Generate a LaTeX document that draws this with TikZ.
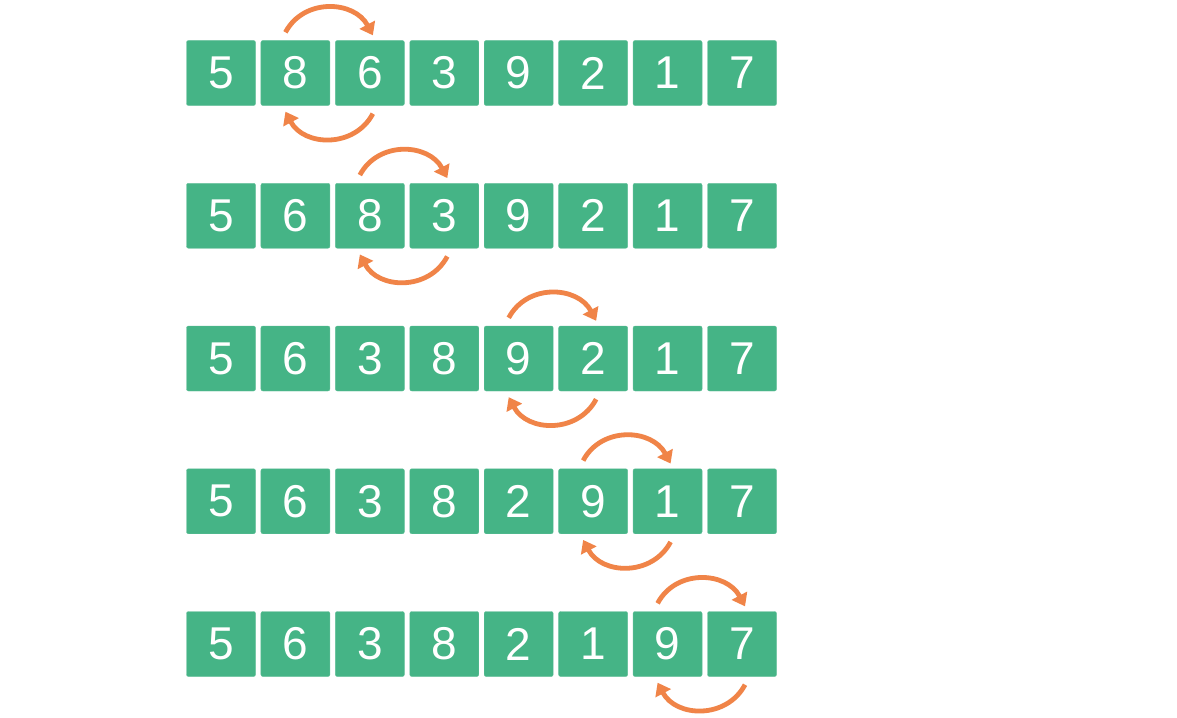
\documentclass[tikz,border=0pt]{standalone}
\usepackage{fontspec}
\setmainfont{Liberation Sans}
\usepackage{tikz}
\usetikzlibrary{arrows.meta}

\definecolor{cellgreen}{RGB}{69,180,134}
\definecolor{swaporange}{RGB}{240,132,72}

\begin{document}
\begin{tikzpicture}[x=1pt,y=1pt,
    cell/.style={rectangle,draw=cellgreen!85,fill=cellgreen,rounded corners=2pt,
      minimum width=69pt,minimum height=65pt,inner sep=0pt,text=white,
      font=\fontsize{46}{50}\selectfont},
    swap/.style={draw=swaporange,line width=4.8pt,-{Triangle[width=17pt,length=12pt]}}]
    \useasboundingbox[fill=white] (0,0) rectangle (1177,-717);

    % Rows
    \foreach \d [count=\i] in {5,8,6,3,9,2,1,7}
      \node[cell] (a\i) at (221+74.43*\i-74.43,-73) {\d};
    \foreach \d [count=\i] in {5,6,8,3,9,2,1,7}
      \node[cell] (b\i) at (221+74.43*\i-74.43,-215.75) {\d};
    \foreach \d [count=\i] in {5,6,3,8,9,2,1,7}
      \node[cell] (c\i) at (221+74.43*\i-74.43,-358.5) {\d};
    \foreach \d [count=\i] in {5,6,3,8,2,9,1,7}
      \node[cell] (d\i) at (221+74.43*\i-74.43,-501.25) {\d};
    \foreach \d [count=\i] in {5,6,3,8,2,1,9,7}
      \node[cell] (e\i) at (221+74.43*\i-74.43,-644) {\d};

    % Swaps
    \draw[swap] ([xshift=-10pt,yshift=8pt]a2.north) to[out=62,in=118,looseness=1.15] ([xshift=3pt,yshift=5pt]a3.north);
    \draw[swap] ([xshift=3pt,yshift=-8pt]a3.south) to[out=-118,in=-62,looseness=1.15] ([xshift=-10pt,yshift=-6pt]a2.south);
    \draw[swap] ([xshift=-10pt,yshift=8pt]b3.north) to[out=62,in=118,looseness=1.15] ([xshift=3pt,yshift=5pt]b4.north);
    \draw[swap] ([xshift=3pt,yshift=-8pt]b4.south) to[out=-118,in=-62,looseness=1.15] ([xshift=-10pt,yshift=-6pt]b3.south);
    \draw[swap] ([xshift=-10pt,yshift=8pt]c5.north) to[out=62,in=118,looseness=1.15] ([xshift=3pt,yshift=5pt]c6.north);
    \draw[swap] ([xshift=3pt,yshift=-8pt]c6.south) to[out=-118,in=-62,looseness=1.15] ([xshift=-10pt,yshift=-6pt]c5.south);
    \draw[swap] ([xshift=-10pt,yshift=8pt]d6.north) to[out=62,in=118,looseness=1.15] ([xshift=3pt,yshift=5pt]d7.north);
    \draw[swap] ([xshift=3pt,yshift=-8pt]d7.south) to[out=-118,in=-62,looseness=1.15] ([xshift=-10pt,yshift=-6pt]d6.south);
    \draw[swap] ([xshift=-10pt,yshift=8pt]e7.north) to[out=62,in=118,looseness=1.15] ([xshift=3pt,yshift=5pt]e8.north);
    \draw[swap] ([xshift=3pt,yshift=-8pt]e8.south) to[out=-118,in=-62,looseness=1.15] ([xshift=-10pt,yshift=-6pt]e7.south);
\end{tikzpicture}
\end{document}
